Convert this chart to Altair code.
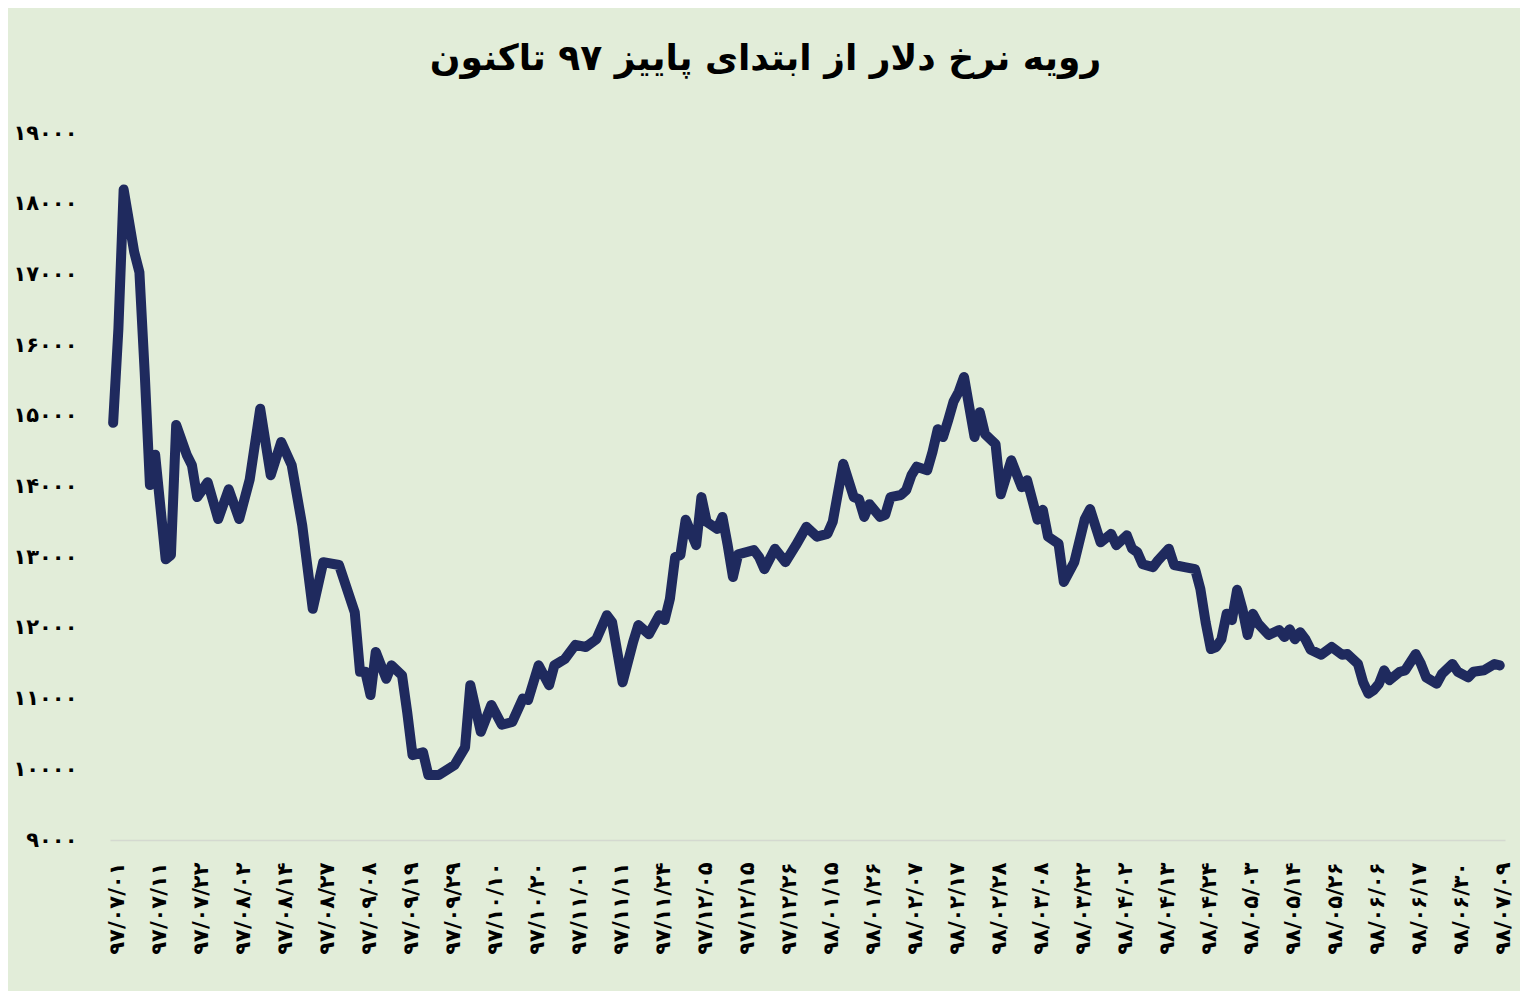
import altair as alt
import pandas as pd

# trading-day index (0 = 97/07/01) and dollar rate (rial/toman)
days = [0, 1, 2, 4, 5, 6, 7, 8, 10, 11, 12, 14, 15, 16, 18, 20, 22, 24, 26, 28,
        30, 32, 34, 36, 38, 40, 43, 46, 47, 48, 49, 50, 52, 53, 55, 56, 57, 59, 60, 62,
        65, 67, 68, 70, 72, 74, 76, 78, 79, 81, 83, 84, 86, 88, 90, 92, 94, 95, 97, 99,
        100, 102, 104, 105, 106, 107, 108, 109, 111, 112, 113, 115, 116, 117, 118, 119, 122, 123, 124, 126,
        128, 130, 132, 134, 136, 137, 139, 141, 142, 143, 144, 146, 147, 148, 150, 151, 152, 153, 155, 156,
        157, 158, 159, 160, 161, 162, 164, 165, 166, 168, 169, 171, 173, 174, 176, 177, 178, 180, 181, 183,
        185, 186, 188, 190, 191, 193, 194, 195, 196, 198, 199, 201, 202, 204, 206, 207, 208, 209, 210, 211,
        212, 213, 214, 215, 216, 217, 218, 220, 222, 223, 224, 225, 226, 227, 228, 230, 232, 234, 235, 237,
        238, 239, 240, 241, 242, 243, 245, 246, 248, 249, 250, 252, 253, 255, 256, 258, 259, 261, 263, 264]

rates = [14900, 16230, 18200, 17320, 17030, 15620, 14020, 14450, 12970, 13030, 14870, 14450, 14300, 13850, 14060, 13540, 13960, 13540, 14100, 15100,
         14160, 14630, 14300, 13450, 12270, 12930, 12890, 12220, 11380, 11380, 11050, 11660, 11280, 11470, 11330, 10800, 10200, 10240, 9920, 9920,
         10060, 10310, 11190, 10530, 10910, 10630, 10670, 11000, 10980, 11470, 11190, 11470, 11560, 11760, 11730, 11840, 12180, 12080, 11230, 11800,
         12040, 11910, 12180, 12110, 12410, 13000, 13030, 13530, 13170, 13850, 13500, 13400, 13570, 13170, 12720, 13040, 13100, 13000, 12830, 13120,
         12930, 13170, 13430, 13290, 13330, 13500, 14320, 13850, 13820, 13570, 13750, 13570, 13600, 13850, 13880, 13950, 14160, 14280, 14230, 14490,
         14810, 14700, 14940, 15200, 15340, 15550, 14700, 15050, 14740, 14600, 13890, 14370, 13990, 14090, 13530, 13670, 13290, 13190, 12650, 12930,
         13540, 13680, 13210, 13330, 13170, 13310, 13120, 13070, 12900, 12860, 12960, 13120, 12890, 12860, 12830, 12550, 12080, 11700, 11730, 11840,
         12200, 12110, 12540, 12270, 11900, 12200, 12060, 11900, 11970, 11870, 11980, 11840, 11940, 11840, 11690, 11620, 11730, 11620, 11630, 11490,
         11230, 11070, 11120, 11210, 11400, 11260, 11380, 11400, 11630, 11490, 11300, 11210, 11350, 11490, 11380, 11300, 11380, 11400, 11490, 11470]

# x-axis tick labels (every 8th trading day)
x_labels = ["۹۷/۰۷/۰۱", "۹۷/۰۷/۱۱", "۹۷/۰۷/۲۲", "۹۷/۰۸/۰۲", "۹۷/۰۸/۱۴", "۹۷/۰۸/۲۷",
            "۹۷/۰۹/۰۸", "۹۷/۰۹/۱۹", "۹۷/۰۹/۲۹", "۹۷/۱۰/۱۰", "۹۷/۱۰/۲۰", "۹۷/۱۱/۰۱",
            "۹۷/۱۱/۱۱", "۹۷/۱۱/۲۴", "۹۷/۱۲/۰۵", "۹۷/۱۲/۱۵", "۹۷/۱۲/۲۶", "۹۸/۰۱/۱۵",
            "۹۸/۰۱/۲۶", "۹۸/۰۲/۰۷", "۹۸/۰۲/۱۷", "۹۸/۰۲/۲۸", "۹۸/۰۳/۰۸", "۹۸/۰۳/۲۲",
            "۹۸/۰۴/۰۲", "۹۸/۰۴/۱۳", "۹۸/۰۴/۲۴", "۹۸/۰۵/۰۳", "۹۸/۰۵/۱۴", "۹۸/۰۵/۲۶",
            "۹۸/۰۶/۰۶", "۹۸/۰۶/۱۷", "۹۸/۰۶/۳۰", "۹۸/۰۷/۰۹"]
x_tick_days = [i * 8 for i in range(len(x_labels))]

y_ticks = [9000, 10000, 11000, 12000, 13000, 14000, 15000, 16000, 17000, 18000, 19000]
y_labels = ["۹۰۰۰", "۱۰۰۰۰", "۱۱۰۰۰", "۱۲۰۰۰", "۱۳۰۰۰", "۱۴۰۰۰",
            "۱۵۰۰۰", "۱۶۰۰۰", "۱۷۰۰۰", "۱۸۰۰۰", "۱۹۰۰۰"]

title_text = "رویه نرخ دلار از ابتدای پاییز ۹۷ تاکنون"

df = pd.DataFrame({"day": days, "rate": rates})

FONT = "DejaVu Sans"
x_expr = "[" + ",".join("'" + s + "'" for s in x_labels) + "][datum.value / 8]"
y_expr = "[" + ",".join("'" + s + "'" for s in y_labels) + "][(datum.value - 9000) / 1000]"

chart = (
    alt.Chart(df)
    .mark_line(color="#1f2a5e", strokeWidth=10, strokeJoin="round", strokeCap="round")
    .encode(
        x=alt.X(
            "day:Q",
            scale=alt.Scale(domain=[-0.6, 265], nice=False, zero=False),
            axis=alt.Axis(
                values=x_tick_days,
                labelExpr=x_expr,
                labelAngle=270,
                labelAlign="right",
                labelBaseline="middle",
                labelFont=FONT,
                labelFontSize=21,
                labelFontWeight="bold",
                labelColor="#000000",
                labelPadding=22,
                labelOffset=4,
                labelOverlap=False,
                ticks=False,
                grid=False,
                domainColor="#d4d9d0",
                domainWidth=1.5,
                title=None,
            ),
        ),
        y=alt.Y(
            "rate:Q",
            scale=alt.Scale(domain=[9000, 19000], nice=False, zero=False),
            axis=alt.Axis(
                values=y_ticks,
                labelExpr=y_expr,
                labelFont=FONT,
                labelFontSize=21,
                labelFontWeight="bold",
                labelColor="#000000",
                labelPadding=33,
                ticks=False,
                grid=False,
                domain=False,
                title=None,
            ),
        ),
    )
    .properties(
        width=1395,
        height=707,
        autosize=alt.AutoSizeParams(type="none"),
        padding={"left": 102, "top": 125, "right": 15, "bottom": 151},
        background="#e2edd9",
        title=alt.TitleParams(
            text=title_text,
            font=FONT,
            fontSize=36,
            fontWeight="bold",
            color="#000000",
            anchor="middle",
            offset=44,
            dx=-42,
        ),
    )
    .configure_view(stroke=None)
)

chart.save("out.html", embed_options={"renderer": "svg", "actions": False})
